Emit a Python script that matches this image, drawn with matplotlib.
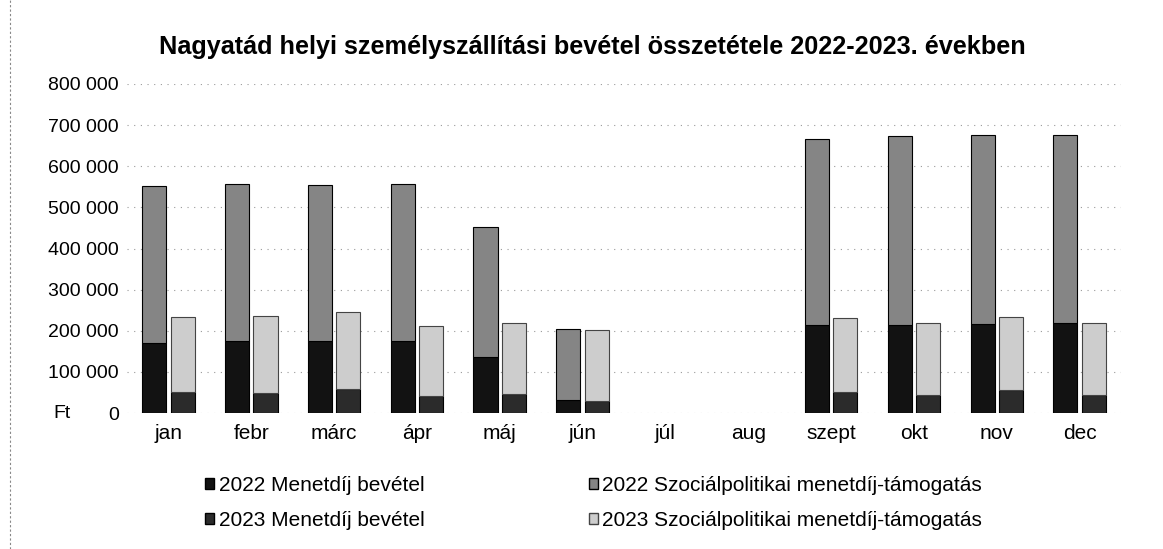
import matplotlib.pyplot as plt
from matplotlib.lines import Line2D
from matplotlib.patches import Patch
from matplotlib.ticker import FuncFormatter

plt.rcParams['font.family'] = ['Liberation Sans', 'DejaVu Sans']

honapok = ['jan', 'febr', 'márc', 'ápr', 'máj', 'jún', 'júl', 'aug', 'szept', 'okt', 'nov', 'dec']

menetdij_2022 = [170000, 176000, 175000, 175000, 137000, 32000, 0, 0, 215000, 214000, 217000, 218000]
szoc_2022 = [382000, 382000, 379000, 381000, 315000, 173000, 0, 0, 452000, 460000, 460000, 459000]
menetdij_2023 = [51000, 48000, 59000, 41000, 46000, 28000, 0, 0, 52000, 44000, 56000, 45000]
szoc_2023 = [183000, 189000, 187000, 171000, 172000, 173000, 0, 0, 179000, 176000, 177000, 175000]

c_m22 = '#121212'
c_s22 = '#858585'
c_m23 = '#2b2b2b'
c_s23 = '#cdcdcd'


def vonal(ertekek):
    # no outline for empty months (júl, aug)
    return [0.8 if v > 0 else 0 for v in ertekek]


fig = plt.figure(figsize=(11.63, 5.49), dpi=100)
ax = fig.add_axes([0.1092, 0.2477, 0.8547, 0.5993])

x = list(range(len(honapok)))
x22 = [i - 0.172 for i in x]
x23 = [i + 0.172 for i in x]
w = 0.29

ax.bar(x22, menetdij_2022, w, color=c_m22, edgecolor='black', linewidth=vonal(menetdij_2022), zorder=3)
ax.bar(x22, szoc_2022, w, bottom=menetdij_2022, color=c_s22, edgecolor='black',
       linewidth=vonal(szoc_2022), zorder=3)
ax.bar(x23, menetdij_2023, w, color=c_m23, edgecolor='black', linewidth=vonal(menetdij_2023), zorder=3)
ax.bar(x23, szoc_2023, w, bottom=menetdij_2023, color=c_s23, edgecolor='#444444',
       linewidth=vonal(szoc_2023), zorder=3)

ax.set_xlim(-0.5, 11.5)
ax.set_ylim(0, 800000)
ax.set_yticks(range(0, 800001, 100000))
ax.yaxis.set_major_formatter(FuncFormatter(lambda v, p: f"{int(v):,}".replace(',', ' ')))
ax.set_xticks(x)
ax.set_xticklabels(honapok, fontsize=15)
ax.tick_params(axis='x', length=0, pad=8)
ax.tick_params(axis='y', length=0, pad=6, labelsize=14)
ax.grid(axis='y', color='#9a9a9a', linestyle=(0, (1, 5)), linewidth=0.8, zorder=0)
for s in ax.spines.values():
    s.set_visible(False)

fig.text(53 / 1163, 1 - 413 / 549, 'Ft', fontsize=14, va='center', ha='left')

fig.text(0.509, 0.914, 'Nagyatád helyi személyszállítási bevétel összetétele 2022-2023. években',
         fontsize=18.2, fontweight='bold', ha='center', va='center')

handles = [Patch(facecolor=c_m22, edgecolor='black'),
           Patch(facecolor=c_m23, edgecolor='black'),
           Patch(facecolor=c_s22, edgecolor='black'),
           Patch(facecolor=c_s23, edgecolor='#444444')]
labels = ['2022 Menetdíj bevétel', '2023 Menetdíj bevétel',
          '2022 Szociálpolitikai menetdíj-támogatás', '2023 Szociálpolitikai menetdíj-támogatás']
fig.legend(handles, labels, ncol=2, loc='upper left', bbox_to_anchor=(205 / 1163, 1 - 476 / 549),
           frameon=False, fontsize=15, handlelength=0.45, handleheight=0.45, handletextpad=0.2,
           columnspacing=7.9, labelspacing=0.75, borderaxespad=0, borderpad=0)

fig.add_artist(Line2D([10 / 1163, 10 / 1163], [0, 1], transform=fig.transFigure,
                      color='#888888', linestyle=(0, (2, 2)), linewidth=0.8))

fig.savefig('out.png', dpi=100)
